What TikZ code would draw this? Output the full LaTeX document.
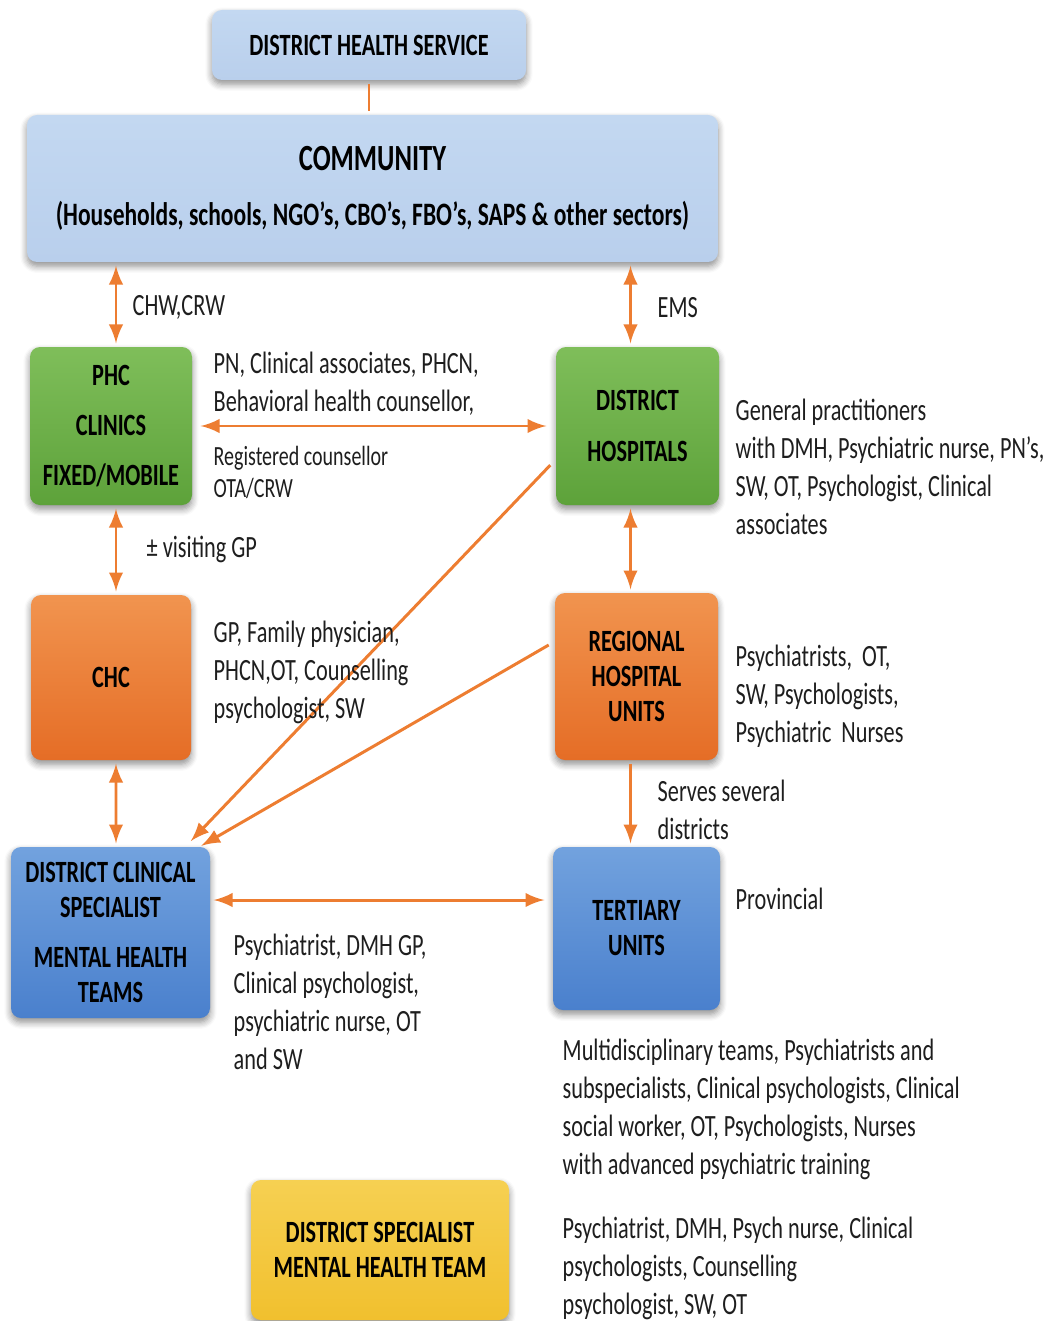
\documentclass[tikz,border=0pt]{standalone}
\usepackage{fontspec}
\setmainfont[FakeStretch=0.72]{Carlito}
\usepackage{xcolor}
\usetikzlibrary{calc}
\usetikzlibrary{shadows.blur}

\begin{document}
\begin{tikzpicture}[>=latex, x=0.1mm, y=-0.1mm]

% colors
\definecolor{arrowOrange}{HTML}{ED7D31}
\definecolor{paleBlueTop}{HTML}{C3D8F1}
\definecolor{paleBlueBottom}{HTML}{B9CFEC}
\definecolor{greenTop}{HTML}{7FBE5A}
\definecolor{greenBottom}{HTML}{5DA23A}
\definecolor{orangeTop}{HTML}{F1944F}
\definecolor{orangeBottom}{HTML}{E56D26}
\definecolor{blueTop}{HTML}{72A2DE}
\definecolor{blueBottom}{HTML}{4A80CD}
\definecolor{yellowTop}{HTML}{F6D052}
\definecolor{yellowBottom}{HTML}{F1C02E}
\definecolor{staffGray}{HTML}{1E1E1E}

% fonts
\def\boxFont{\fontsize{8.8pt}{10pt}\selectfont\bfseries}
\def\staffFont{\fontsize{8.8pt}{10.8pt}\selectfont}
\def\smallStaffFont{\fontsize{7.9pt}{9.1pt}\selectfont}

% offsets of the vertical arrows from the box centres
\def\leftShift{5}
\def\rightShift{-7}

\tikzset{
    levelBox/.style={
        rounded corners=1mm, align=center, inner sep=0pt, font=\boxFont,
        blur shadow={shadow xshift=0pt, shadow yshift=-1.2pt, shadow blur steps=6, shadow opacity=45}
    },
    paleBox/.style={levelBox, top color=paleBlueTop, bottom color=paleBlueBottom},
    greenBox/.style={levelBox, top color=greenTop, bottom color=greenBottom},
    orangeBox/.style={levelBox, top color=orangeTop, bottom color=orangeBottom},
    blueBox/.style={levelBox, top color=blueTop, bottom color=blueBottom},
    yellowBox/.style={levelBox, top color=yellowTop, bottom color=yellowBottom},
    staffText/.style={anchor=north west, align=left, inner sep=0pt, font=\staffFont, text=staffGray},
    link/.style={arrowOrange, line width=0.85pt, shorten <=0.3mm, shorten >=0.3mm},
}

\useasboundingbox (0,0) rectangle (1050,1321);

% top of the hierarchy
\node[paleBox, minimum width=31.4mm, minimum height=7mm] (dhs) at (369,45) {DISTRICT HEALTH SERVICE};
\node[paleBox, minimum width=69.1mm, minimum height=14.7mm, font=\fontsize{10.5pt}{15.6pt}\selectfont\bfseries] (community) at (372.5,188.5)
    {COMMUNITY\\{\fontsize{9.3pt}{15.6pt}\selectfont(Households, schools, NGO’s, CBO’s, FBO’s, SAPS \& other sectors)}};

% service levels
\node[greenBox, minimum width=16.2mm, minimum height=15.8mm] (phc) at (111,426) {PHC\\[1.5mm]CLINICS\\[1.5mm]FIXED/MOBILE};
\node[greenBox, minimum width=16.3mm, minimum height=15.8mm] (distHosp) at (637.5,426) {DISTRICT\\[1.5mm]HOSPITALS};
\node[orangeBox, minimum width=16mm, minimum height=16.5mm] (chc) at (111,677.5) {CHC};
\node[orangeBox, minimum width=16.3mm, minimum height=16.7mm] (regional) at (636.5,676.5) {REGIONAL\\HOSPITAL\\UNITS};
\node[blueBox, minimum width=19.9mm, minimum height=17.1mm] (clinSpec) at (110.5,932.5) {DISTRICT CLINICAL\\SPECIALIST\\[1.5mm]MENTAL HEALTH\\TEAMS};
\node[blueBox, minimum width=16.7mm, minimum height=16.3mm] (tertiary) at (636.5,928.5) {TERTIARY\\UNITS};
\node[yellowBox, minimum width=25.8mm, minimum height=14mm] (distSpec) at (380,1250) {DISTRICT SPECIALIST\\MENTAL HEALTH TEAM};

% connectors
\draw[link] (dhs.south) -- (dhs.south |- community.north);
\draw[link, <->] ($(phc.north)+(\leftShift,0)$) -- ($(phc.north |- community.south)+(\leftShift,0)$);
\draw[link, <->] ($(distHosp.north)+(\rightShift,0)$) -- ($(distHosp.north |- community.south)+(\rightShift,0)$);
\draw[link, <->, shorten <=0.8mm, shorten >=0.9mm] (phc.east) -- (distHosp.west);
\draw[link, <->] ($(phc.south)+(\leftShift,0)$) -- ($(chc.north)+(\leftShift,0)$);
\draw[link, <->] ($(distHosp.south)+(\rightShift,0)$) -- ($(regional.north)+(\rightShift+1,0)$);
\draw[link, <->] ($(chc.south)+(\leftShift,0)$) -- ($(clinSpec.north)+(\leftShift+0.5,0)$);
\draw[link, ->] ($(regional.south)+(\rightShift+1,0)$) -- ($(tertiary.north)+(\rightShift+1,0)$);
\draw[link, ->] ($(distHosp.west)+(-3,37)$) -- ($(clinSpec.north east)+(-22,-3)$);
\draw[link, ->] ($(regional.west)+(-3,-33)$) -- ($(clinSpec.north east)+(-12,1)$);
\draw[link, <->, shorten <=0.3mm, shorten >=0.8mm] ($(clinSpec.east)+(0,-32.5)$) -- ($(tertiary.west)+(0,-28.5)$);

% staff labels
\node[staffText] (chwLabel) at (132,295) {CHW,CRW};
\node[staffText] (emsLabel) at (657,297) {EMS};
\node[staffText] (phcStaff) at (213,351) {PN, Clinical associates, PHCN,\\Behavioral health counsellor,};
\node[staffText, font=\smallStaffFont] (phcStaffMore) at (213,446) {Registered counsellor\\OTA/CRW};
\node[staffText] (distHospStaff) at (735,398) {General practitioners\\with DMH, Psychiatric nurse, PN’s,\\SW, OT, Psychologist, Clinical\\associates};
\node[staffText] (gpLabel) at (146,535) {± visiting GP};
\node[staffText] (chcStaff) at (213,620) {GP, Family physician,\\PHCN,OT, Counselling\\psychologist, SW};
\node[staffText] (regionalStaff) at (735,644) {Psychiatrists,\ \ OT,\\SW, Psychologists,\\Psychiatric\ \ Nurses};
\node[staffText] (servesLabel) at (657,779) {Serves several\\districts};
\node[staffText] (clinSpecStaff) at (233,933) {Psychiatrist, DMH GP,\\Clinical psychologist,\\psychiatric nurse, OT\\and SW};
\node[staffText] (provLabel) at (735,887) {Provincial};
\node[staffText] (tertiaryStaff) at (562,1038) {Multidisciplinary teams, Psychiatrists and\\subspecialists, Clinical psychologists, Clinical\\social worker, OT, Psychologists, Nurses\\with advanced psychiatric training};
\node[staffText] (distSpecStaff) at (562,1216) {Psychiatrist, DMH, Psych nurse, Clinical\\psychologists, Counselling\\psychologist, SW, OT};

\end{tikzpicture}
\end{document}
